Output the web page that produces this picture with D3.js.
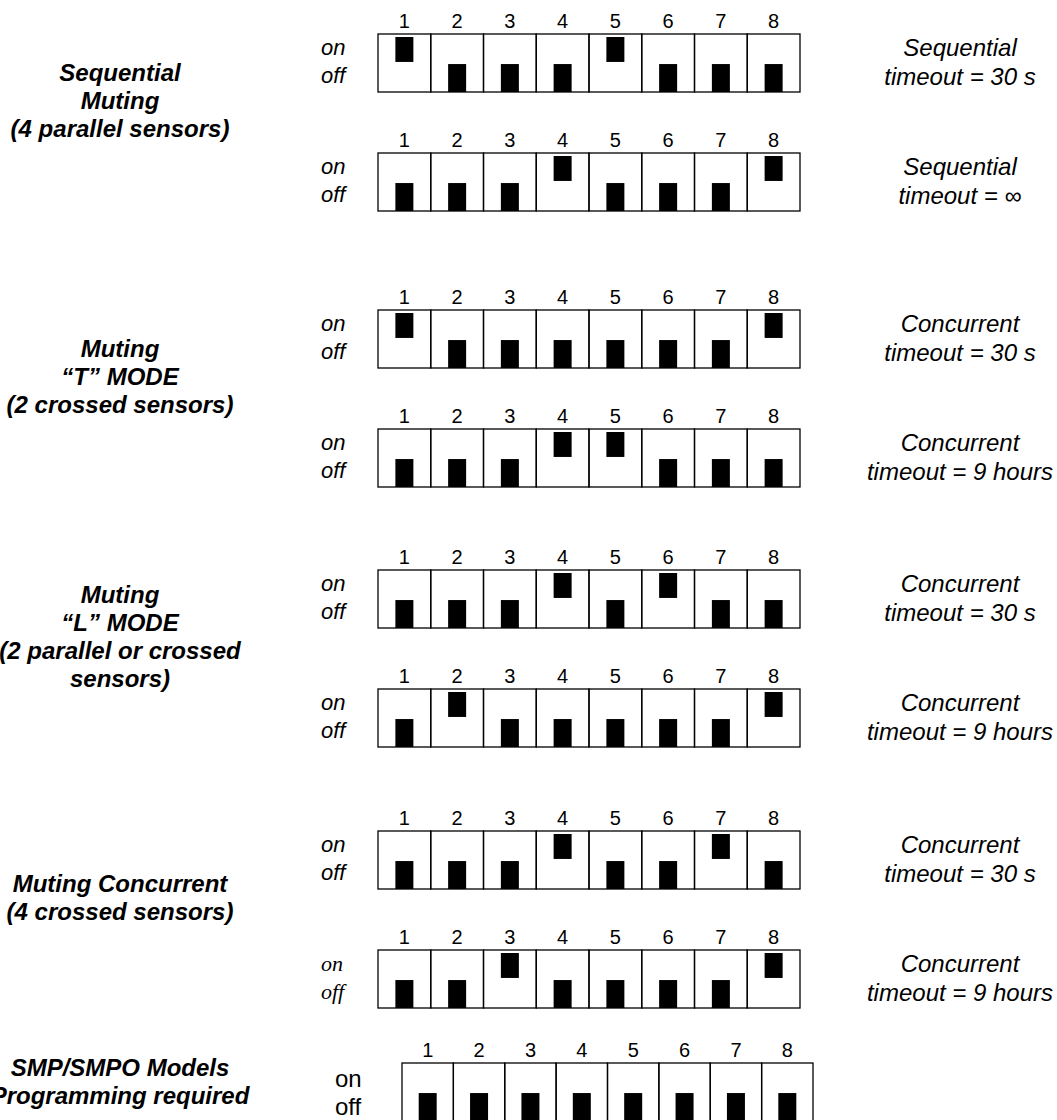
<!DOCTYPE html>
<html>
<head>
<meta charset="utf-8">
<script src="https://cdn.jsdelivr.net/npm/d3@7/dist/d3.min.js"></script>
<style>
  body { margin: 0; background: #fff; }
  svg { display: block; }
  text { font-family: "Liberation Sans", Arial, sans-serif; fill: #000; }
</style>
</head>
<body>
<svg id="canvas"></svg>
<script>
// dip switch numbers
let switchNumbers = [1, 2, 3, 4, 5, 6, 7, 8];

// mode labels on the left, one per group
let groupLabels = [
    ["Sequential", "Muting", "(4 parallel sensors)"],
    ["Muting", "\u201CT\u201D MODE", "(2 crossed sensors)"],
    ["Muting", "\u201CL\u201D MODE", "(2 parallel or crossed", "sensors)"],
    ["Muting Concurrent", "(4 crossed sensors)"],
    ["SMP/SMPO Models", "Programming required"]
];

// which group every switch row belongs to
let rowGroup = [0, 0, 1, 1, 2, 2, 3, 3, 4];

// switch positions per row: 1 = on, 0 = off
let rowSettings = [
    [1, 0, 0, 0, 1, 0, 0, 0],
    [0, 0, 0, 1, 0, 0, 0, 1],
    [1, 0, 0, 0, 0, 0, 0, 1],
    [0, 0, 0, 1, 1, 0, 0, 0],
    [0, 0, 0, 1, 0, 1, 0, 0],
    [0, 1, 0, 0, 0, 0, 0, 1],
    [0, 0, 0, 1, 0, 0, 1, 0],
    [0, 0, 1, 0, 0, 0, 0, 1],
    [0, 0, 0, 0, 0, 0, 0, 0]
];

// text on the right of each row
let rowModes = [
    ["Sequential", "timeout = 30 s"],
    ["Sequential", "timeout = \u221E"],
    ["Concurrent", "timeout = 30 s"],
    ["Concurrent", "timeout = 9 hours"],
    ["Concurrent", "timeout = 30 s"],
    ["Concurrent", "timeout = 9 hours"],
    ["Concurrent", "timeout = 30 s"],
    ["Concurrent", "timeout = 9 hours"],
    []
];

let stateLabels = ["on", "off"];

// ---- layout ----
let width = 1057, height = 1120;
let groupTop = [34, 310, 570, 831, 1063];
let rowStep = 119;
let boxH = 58;
let switchW = 18;

let canvas = d3.select('#canvas')
    .attr('width', width)
    .attr('height', height);

let rowTop = rowGroup.map((g, i) => {
    let k = rowGroup.slice(0, i).filter(x => x === g).length;
    return groupTop[g] + k * rowStep;
});

let lastRow = rowSettings.length - 1;

let xMain = d3.scaleBand().domain(switchNumbers).range([378, 800]);
let xLast = d3.scaleBand().domain(switchNumbers).range([402, 813]);

let ySwitch = d3.scaleBand().domain([1, 0]).range([0, boxH]).paddingInner(0.07);

let rows = canvas.selectAll('g.row')
    .data(rowSettings)
    .enter()
    .append('g')
    .attr('class', 'row')
    .attr('transform', (d, i) => 'translate(0,' + rowTop[i] + ')');

rows.each(function (settings, i) {
    let g = d3.select(this);
    let x = i === lastRow ? xLast : xMain;

    // numbers above the box
    g.selectAll('text.num')
        .data(switchNumbers)
        .enter()
        .append('text')
        .attr('class', 'num')
        .attr('x', n => x(n) + x.bandwidth() / 2)
        .attr('y', -6)
        .attr('text-anchor', 'middle')
        .style('font-size', '20px')
        .text(n => n);

    // cells
    g.selectAll('rect.cell')
        .data(switchNumbers)
        .enter()
        .append('rect')
        .attr('class', 'cell')
        .attr('x', n => x(n))
        .attr('y', 0)
        .attr('width', x.bandwidth())
        .attr('height', boxH)
        .attr('fill', 'none')
        .attr('stroke', '#000')
        .attr('stroke-width', 1.3);

    // switch levers
    g.selectAll('rect.lever')
        .data(settings)
        .enter()
        .append('rect')
        .attr('class', 'lever')
        .attr('x', (s, j) => x(switchNumbers[j]) + (x.bandwidth() - switchW) / 2)
        .attr('y', s => s === 1 ? ySwitch(1) + 3 : ySwitch(0))
        .attr('width', switchW)
        .attr('height', s => s === 1 ? ySwitch.bandwidth() - 3 : ySwitch.bandwidth())
        .attr('fill', '#000');

    // on / off
    let stateFont = i === lastRow - 1 ? '"Liberation Serif", "Times New Roman", serif'
        : '"Liberation Sans", Arial, sans-serif';
    g.selectAll('text.state')
        .data(stateLabels)
        .enter()
        .append('text')
        .attr('class', 'state')
        .attr('x', i === lastRow ? 335 : 321)
        .attr('y', (t, k) => (i === lastRow ? 24 : 21) + k * 28)
        .style('font-family', stateFont)
        .style('font-style', i === lastRow ? 'normal' : 'italic')
        .style('font-size', i === lastRow ? '24px' : '22px')
        .text(t => t);

    // mode text on the right
    g.selectAll('text.mode')
        .data(rowModes[i])
        .enter()
        .append('text')
        .attr('class', 'mode')
        .attr('x', 960)
        .attr('y', (t, k) => 22 + k * 29)
        .attr('text-anchor', 'middle')
        .style('font-style', 'italic')
        .style('font-size', '24px')
        .text(t => t);
});

// group labels on the left
groupLabels.forEach((lines, gi) => {
    let idx = rowGroup.map((g, i) => g === gi ? i : -1).filter(i => i >= 0);
    let top = rowTop[idx[0]];
    let bottom = rowTop[idx[idx.length - 1]] + boxH;
    let shift = idx.length > 1 ? -22 : -10;
    let center = (top + bottom) / 2 + shift;
    let lh = 28;
    let first = center - (lines.length - 1) * lh / 2 + 8;

    canvas.append('g')
        .selectAll('text')
        .data(lines)
        .enter()
        .append('text')
        .attr('x', 120)
        .attr('y', (t, k) => first + k * lh)
        .attr('text-anchor', 'middle')
        .style('font-weight', 'bold')
        .style('font-style', 'italic')
        .style('font-size', '24px')
        .text(t => t);
});
</script>
</body>
</html>
